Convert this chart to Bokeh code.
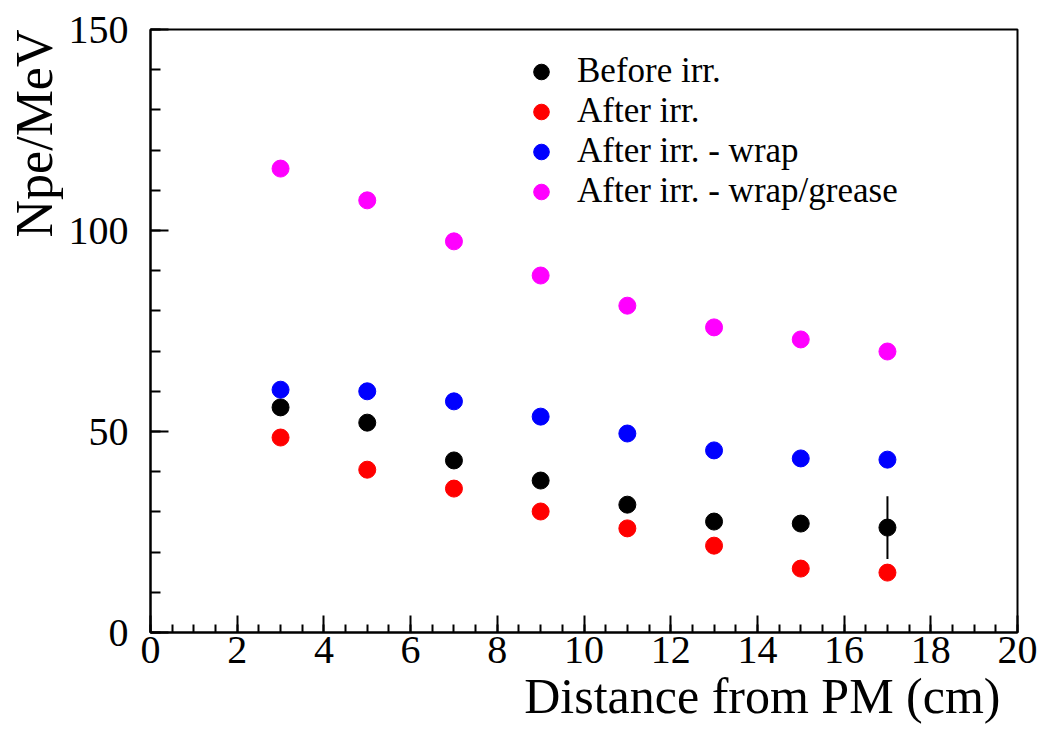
from bokeh.plotting import figure
from bokeh.models import Range1d, SingleIntervalTicker, Legend, LegendItem, Title, ColumnDataSource
from bokeh.embed import file_html
from bokeh.resources import INLINE

distance = [3, 5, 7, 9, 11, 13, 15, 17]
before_irr = [56.0, 52.2, 42.8, 37.8, 31.8, 27.6, 27.1, 26.1]
before_err = [1.0, 1.0, 1.0, 1.0, 1.0, 1.0, 1.0, 7.8]
after_irr = [48.5, 40.5, 35.8, 30.1, 25.9, 21.6, 15.9, 14.9]
after_wrap = [60.4, 60.0, 57.5, 53.7, 49.5, 45.3, 43.3, 43.0]
after_wrap_grease = [115.4, 107.5, 97.3, 88.8, 81.3, 75.9, 72.9, 69.9]

series_names = ["Before irr.", "After irr.", "After irr. - wrap", "After irr. - wrap/grease"]
series_colors = ["#000000", "#ff0000", "#0000ff", "#ff00ff"]

FONT = "Liberation Serif"

p = figure(width=1041, height=730, output_backend="svg", toolbar_location=None,
           x_range=Range1d(0, 20), y_range=Range1d(0, 150),
           min_border_left=150, min_border_right=24, min_border_top=29, min_border_bottom=98)
p.background_fill_color = "white"
p.border_fill_color = "white"
p.outline_line_color = "black"
p.outline_line_width = 2
p.xgrid.visible = False
p.ygrid.visible = False

p.xaxis.ticker = SingleIntervalTicker(interval=2, num_minor_ticks=4)
p.yaxis.ticker = SingleIntervalTicker(interval=50, num_minor_ticks=5)
for ax in (p.xaxis, p.yaxis):
    ax.axis_line_width = 2
    ax.axis_line_color = "black"
    ax.major_tick_line_width = 2
    ax.minor_tick_line_width = 2
    ax.major_tick_out = 0
    ax.minor_tick_out = 0
    ax.major_label_text_font = FONT
    ax.major_label_text_font_size = "40px"
    ax.major_label_text_color = "black"
p.xaxis.major_tick_in = 17
p.xaxis.minor_tick_in = 8
p.yaxis.major_tick_in = 18
p.yaxis.minor_tick_in = 10
p.xaxis.major_label_standoff = 4
p.yaxis.major_label_standoff = 22

# error bars for "Before irr."
err_src = ColumnDataSource(dict(x=distance,
                                y0=[v - e for v, e in zip(before_irr, before_err)],
                                y1=[v + e for v, e in zip(before_irr, before_err)]))
p.segment(x0="x", y0="y0", x1="x", y1="y1", source=err_src, line_color="black", line_width=2)

renderers = []
for vals, col in zip([before_irr, after_irr, after_wrap, after_wrap_grease], series_colors):
    r = p.scatter(distance, vals, size=17, fill_color=col, line_color=col, marker="circle")
    renderers.append(r)

legend = Legend(items=[LegendItem(label=n, renderers=[r]) for n, r in zip(series_names, renderers)],
                location=(371, 421))
legend.label_text_font = FONT
legend.label_text_font_size = "35px"
legend.label_text_color = "black"
legend.glyph_width = 40
legend.glyph_height = 39
legend.label_height = 39
legend.label_standoff = 16
legend.spacing = 0
legend.padding = 0
legend.margin = 0
legend.border_line_alpha = 0
legend.background_fill_alpha = 0
p.add_layout(legend)

xt = Title(text="Distance from PM (cm)", align="right", text_font=FONT, text_font_size="50px",
           text_font_style="normal", text_color="black", standoff=0, offset=17)
yt = Title(text="Npe/MeV", align="right", text_font=FONT, text_font_size="52px",
           text_font_style="normal", text_color="black", standoff=6, offset=0)
p.add_layout(xt, "below")
p.add_layout(yt, "left")

open("out.html", "w").write(file_html(p, INLINE))
